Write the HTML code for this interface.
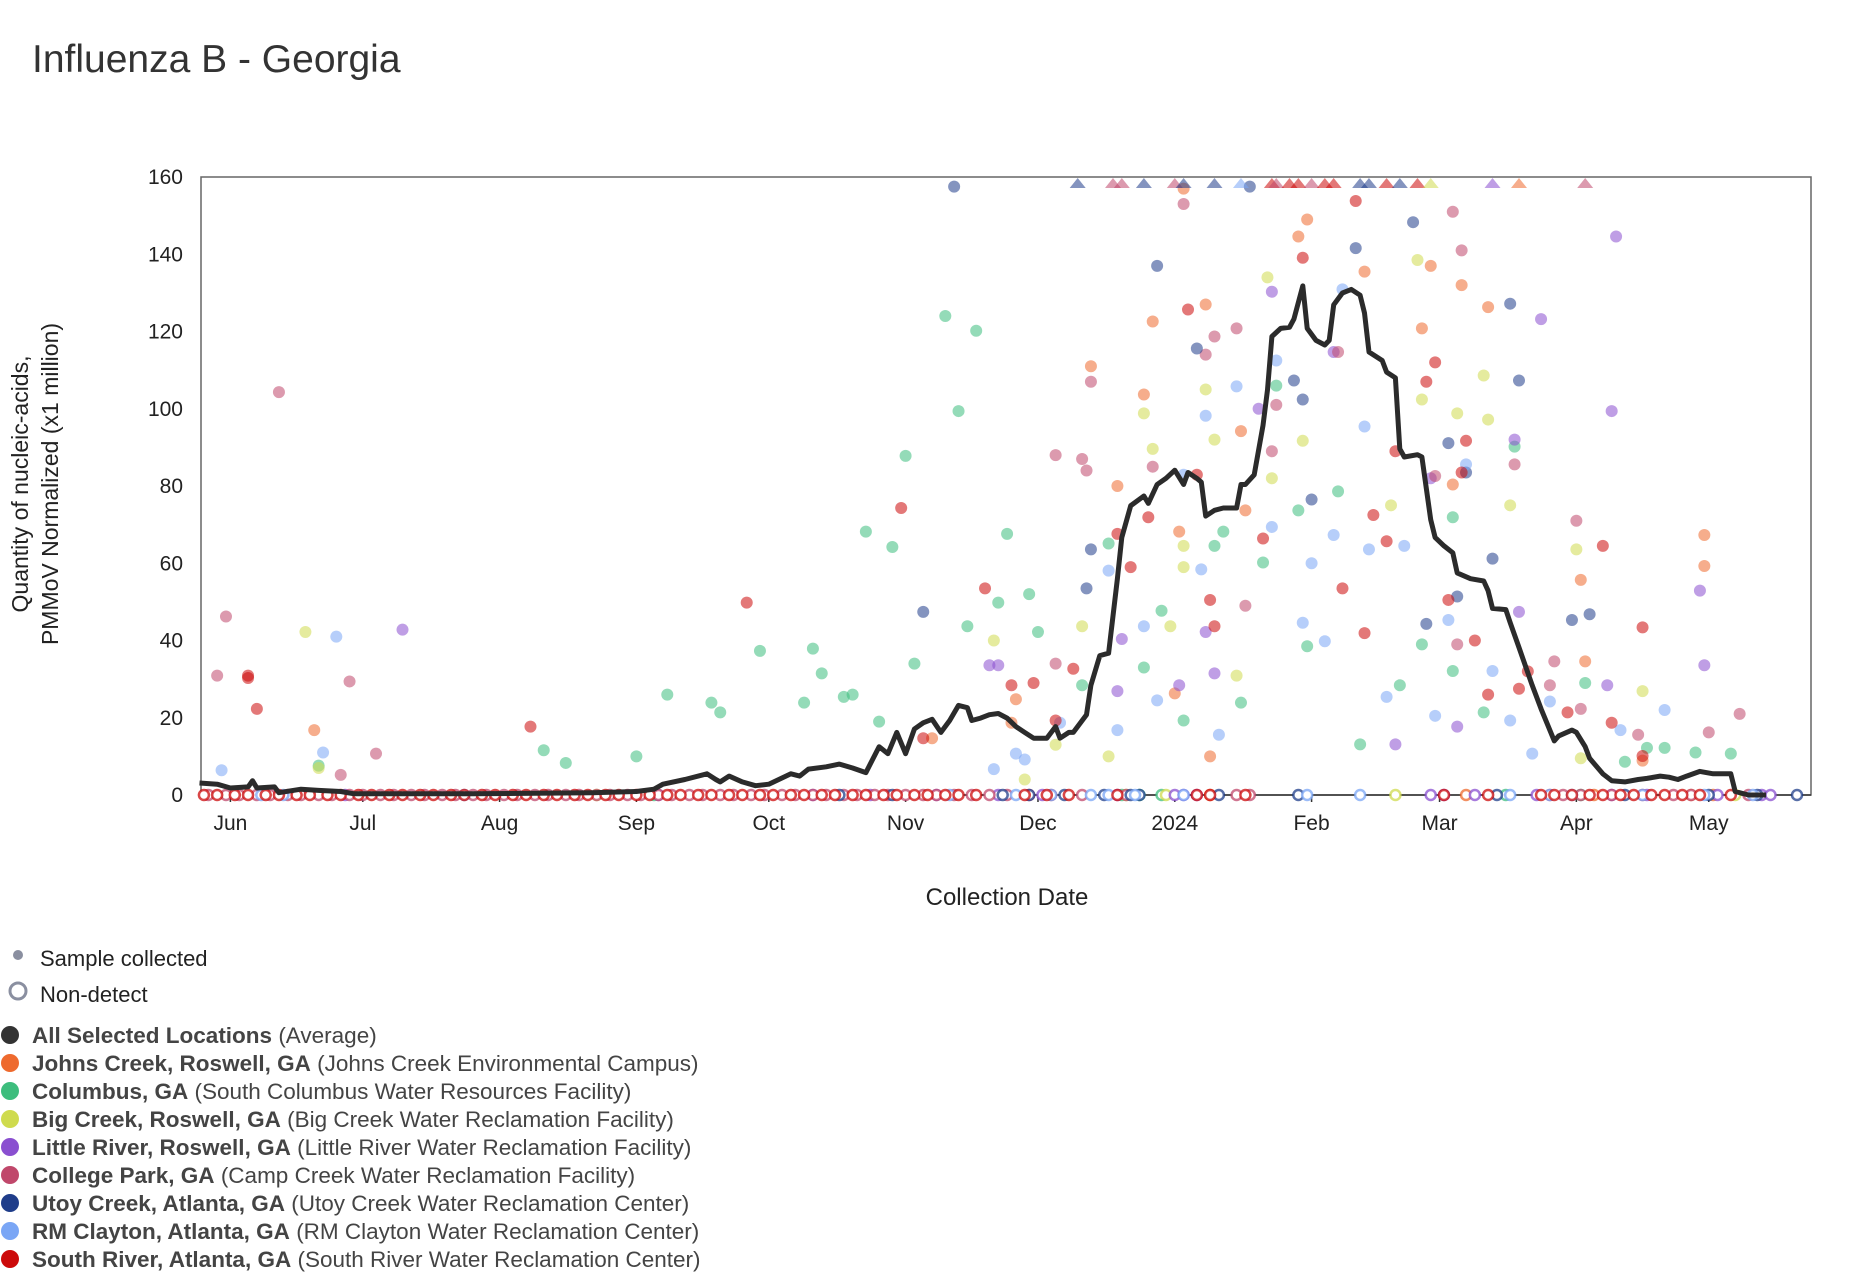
<!DOCTYPE html>
<html><head><meta charset="utf-8"><style>
html,body{margin:0;padding:0;background:#fff;}
svg{display:block;font-family:"Liberation Sans",sans-serif;}
</style></head><body>
<svg id="chart" width="1850" height="1288" viewBox="0 0 1850 1288" xmlns="http://www.w3.org/2000/svg">
<text x="32" y="72" font-size="39" fill="#333">Influenza B - Georgia</text>
<g id="plot"></g>
<text x="1007" y="905" font-size="24" fill="#222" text-anchor="middle">Collection Date</text>
<g transform="translate(28,484) rotate(-90)">
<text x="0" y="0" font-size="23" fill="#222" text-anchor="middle">Quantity of nucleic-acids,</text>
<text x="0" y="30" font-size="23" fill="#222" text-anchor="middle">PMMoV Normalized (x1 million)</text>
</g>
<g id="legend">
<circle cx="18" cy="955" r="5" fill="#8a8fa0"/>
<text x="40" y="966" font-size="22" fill="#222">Sample collected</text>
<circle cx="18" cy="991" r="8" fill="none" stroke="#8a8fa0" stroke-width="3"/>
<text x="40" y="1002" font-size="22" fill="#222">Non-detect</text>
</g>
</svg>
<script>
const avgDays=[-7,-3,0,4,5,6,10,11,16,20,25,28,36,55,82,92,96,98,103,108,110,111,113,116,119,122,127,129,131,135,138,141,144,147,149,151,153,155,157,159,161,163,165,167,168,170,172,174,176,178,180,182,185,187,188,190,191,194,195,197,199,201,202,204,207,208,210,212,214,216,217,219,220,221,223,225,228,229,230,232,234,235,236,238,240,241,243,244,246,248,249,250,252,254,256,257,258,261,262,264,265,266,269,270,272,273,275,277,278,281,284,285,286,289,290,292,295,297,300,301,304,305,307,308,311,313,316,319,321,324,326,328,330,333,336,340,341,344,348];
const avgVals=[3.1,2.8,1.8,2.1,3.7,1.8,2.1,0.6,1.5,1.2,0.9,0.3,0.3,0.3,0.6,0.9,1.5,2.8,4.0,5.5,4.0,3.4,4.9,3.4,2.4,2.8,5.5,4.9,6.7,7.3,8.0,7.0,5.8,12.5,10.7,16.2,10.7,17.1,18.7,19.6,16.2,19.3,23.2,22.6,19.3,19.9,20.8,21.1,19.9,17.7,16.2,14.7,14.7,17.7,14.7,16.2,16.2,20.8,28.4,36.1,36.7,56,66.7,74.9,77.4,75.5,80.4,82,84.1,80.4,83.5,82,81,72.2,73.7,74.3,74.3,80.4,80.4,82.9,95.7,104.9,118.7,120.8,121.1,123.2,131.8,120.8,117.7,116.5,117.7,126.9,130,130.9,129.4,124.8,114.7,112.5,109.5,108,89.6,87.5,88.1,87.5,71.3,66.7,64.5,62.7,57.5,56,55.4,52.9,48.3,48,44.6,38.2,28.4,22.3,14,15.3,16.8,16.2,12.5,9.5,5.5,3.7,3.4,4,4.3,4.9,4.6,4,4.9,6.1,5.5,5.5,0.9,0,0];

const siteNames=["Johns Creek","Columbus","Big Creek","Little River","College Park","Utoy Creek","RM Clayton","South River"];
const siteColors=["#ee6a2e","#3dbd7d","#cfdb4e","#8a4fd0","#c0476b","#1f3d8a","#7aa6f5","#cc0a0a"];
const jcDays=[19,195,201,207,209,214,215,216,221,222,229,230,242,244,257,270,272,279,285,277,307,306,334,334,320,178,159,177];
const jcVals=[16.8,111,80,103.7,122.6,26.3,68.2,157,127,10,94.2,73.7,144.6,149,135.5,120.8,137,132,126.3,80.4,34.6,55.7,59.3,67.3,8.9,24.8,14.7,18.7];
const coDays=[20,71,76,92,99,109,111,120,130,132,134,139,141,144,147,150,153,155,162,165,167,169,174,176,181,183,193,199,207,211,216,223,225,229,234,237,242,244,251,256,265,270,277,277,284,291,307,316,321,325,332,340];
const coVals=[7.6,11.6,8.3,10,26,23.9,21.4,37.3,23.9,37.9,31.5,25.4,26,68.2,19,64.2,87.8,34,124,99.4,43.7,120.2,49.8,67.6,52,42.2,28.4,65.1,33,47.7,19.3,64.5,68.2,23.9,60.2,106,73.7,38.5,78.6,13.1,28.4,39,32.1,71.9,21.4,90.2,29,8.6,12.2,12.2,11,10.7];
const bcDays=[17,20,173,180,187,193,199,207,209,213,216,216,221,223,228,235,236,243,263,269,270,278,284,285,290,305,306,320];
const bcVals=[42.2,7,40,4,13,43.7,10,98.8,89.6,43.7,64.5,59,105,92,30.9,134,82,91.7,75,138.5,102.4,98.8,108.6,97.2,75,63.6,9.5,26.9];
const lrDays=[39,172,174,202,215,221,223,233,236,250,272,278,291,292,297,312,313,314,333,334,264,201];
const lrVals=[42.8,33.6,33.6,40.4,28.4,42.2,31.5,100,130.3,114.7,82,17.7,92,47.4,123.2,28.4,99.4,144.6,52.9,33.6,13.1,26.9];
const cpDays=[-3,-1,11,27,25,33,187,193,194,195,209,216,221,223,228,230,236,237,251,277,279,273,278,291,299,305,319,335,342,187,300,306];
const cpVals=[30.9,46.2,104.3,29.4,5.2,10.7,88,87,84,107,85,153,114,118.7,120.8,49,89,101,114.7,151,141,82.6,39,85.6,28.4,71,15.6,16.2,21,34,34.6,22.3];
const utDays=[164,157,194,195,210,219,231,241,243,245,255,268,276,278,280,286,290,292,304,308,271];
const utVals=[157.5,47.4,53.5,63.6,137,115.6,157.5,107.3,102.4,76.5,141.6,148.3,91.1,51.4,83.5,61.2,127.2,107.3,45.3,46.8,44.3];
const rmDays=[-2,21,24,173,178,180,188,199,201,207,210,216,221,220,224,228,236,237,243,245,248,250,252,257,258,262,266,273,276,280,286,295,299,315,325,290];
const rmVals=[6.4,11,41,6.7,10.7,9.2,18.7,58.1,16.8,43.7,24.5,82.9,98.2,58.4,15.6,105.8,69.4,112.5,44.6,60,39.8,67.3,130.9,95.4,63.6,25.4,64.5,20.5,45.3,85.6,32.1,10.7,24.2,16.8,22,19.3];
const srDays=[4,4,6,68,117,152,157,171,177,182,187,191,201,204,208,217,222,223,219,234,243,252,255,257,259,262,264,271,273,276,280,282,285,292,294,303,311,313,320,320,279];
const srVals=[30.9,30.3,22.3,17.7,49.8,74.3,14.7,53.5,28.4,29,19.3,32.7,67.6,59,71.9,125.7,50.5,43.7,82.9,66.4,139.1,53.5,153.8,41.9,72.5,65.7,89,107,112,50.5,91.7,40,26,27.5,32,21.4,64.5,18.7,43.4,10.1,83.5];
const siteDays=[jcDays,coDays,bcDays,lrDays,cpDays,utDays,rmDays,srDays];
const siteVals=[jcVals,coVals,bcVals,lrVals,cpVals,utVals,rmVals,srVals];

const ndDays=[
 [222,280,309,331,336],
 [96,202,206,211,289,306],
 [83,203,212,264,341],
 [26,97,132,145,160,174,184,201,214,216,219,272,275,282,296,313,321,337,347,349],
 [-5,-1,2,6,9,13,16,20,23,27,30,34,37,41,44,48,51,55,58,62,65,69,72,76,79,83,86,90,93,97,100,104,107,111,114,118,121,125,128,132,135,139,142,146,149,153,157,160,164,168,172,176,181,186,193,203,228,231,299,302,306,313,320,327,331,344],
 [138,150,175,181,189,198,204,206,224,242,287,316,335,346,355],
 [7,12,53,163,178,186,195,199,205,216,244,256,290,299,304,320,334,345],
 [-6,-3,1,4,8,11,15,18,22,25,29,32,36,39,43,46,50,53,57,60,64,67,71,74,78,81,85,88,92,95,99,102,106,109,113,116,120,123,127,130,134,137,141,144,148,151,155,158,162,165,169,180,185,190,201,219,222,230,275,285,297,300,304,308,311,315,318,322,325,329,333,340]
];
const offDays=[192,200,202,207,214,216,223,229,236,237,240,242,245,248,250,256,258,262,265,269,272,286,292,307];
const offSite=[5,4,4,5,4,5,5,6,7,4,7,7,4,7,7,5,5,7,5,7,2,3,0,4];

const monthLabels=["Jun","Jul","Aug","Sep","Oct","Nov","Dec","2024","Feb","Mar","Apr","May"];
const monthDays=[0,30,61,92,122,153,183,214,245,274,305,335];
const yTicks=[0,20,40,60,80,100,120,140,160];

const legendBold=["All Selected Locations","Johns Creek, Roswell, GA","Columbus, GA","Big Creek, Roswell, GA","Little River, Roswell, GA","College Park, GA","Utoy Creek, Atlanta, GA","RM Clayton, Atlanta, GA","South River, Atlanta, GA"];
const legendNorm=["(Average)","(Johns Creek Environmental Campus)","(South Columbus Water Resources Facility)","(Big Creek Water Reclamation Facility)","(Little River Water Reclamation Facility)","(Camp Creek Water Reclamation Facility)","(Utoy Creek Water Reclamation Center)","(RM Clayton Water Reclamation Center)","(South River Water Reclamation Center)"];
const legendColors=["#333333","#ee6a2e","#3dbd7d","#cfdb4e","#8a4fd0","#c0476b","#1f3d8a","#7aa6f5","#cc0a0a"];

const NS="http://www.w3.org/2000/svg";
const L=201,R=1811,T=177,B=795;
const X0=230.4,PXD=4.413;
function xs(d){return X0+d*PXD;}
function ys(v){return B-(v/160)*(B-T);}
function mk(tag,attrs,parent){const e=document.createElementNS(NS,tag);for(const k in attrs)e.setAttribute(k,attrs[k]);parent.appendChild(e);return e;}
const plot=document.getElementById('plot');

const frame=mk('rect',{x:L,y:T,width:R-L,height:B-T,fill:'none',stroke:'#666','stroke-width':1.5},plot);


const xax=mk('line',{x1:L,y1:B,x2:R,y2:B,stroke:'#333','stroke-width':1.5},plot);



yTicks.forEach(v=>{
  const t=mk('text',{x:183,y:ys(v)+7,'font-size':21,fill:'#222','text-anchor':'end'},plot);
  t.textContent=v;
  
  
});
monthLabels.forEach((m,i)=>{
  const x=xs(monthDays[i]);
  const tk=mk('line',{x1:x,y1:B,x2:x,y2:B+7,stroke:'#333','stroke-width':1.5},plot);
  
  
  const t=mk('text',{x:x,y:830,'font-size':21,fill:'#222','text-anchor':'middle'},plot);
  t.textContent=m;
  
  
});

ndDays.forEach((arr,s)=>{
  arr.forEach(d=>{
    const c=mk('circle',{cx:xs(d),cy:ys(0),r:5,fill:'#fff',stroke:siteColors[s],'stroke-width':2.5,'stroke-opacity':0.75},plot);
    
    
  });
});
siteDays.forEach((arr,s)=>{
  arr.forEach((d,i)=>{
    const c=mk('circle',{cx:xs(d),cy:ys(siteVals[s][i]),r:6,fill:siteColors[s],'fill-opacity':0.55},plot);
    
    
  });
});
offDays.forEach((d,i)=>{
  const x=xs(d),y=T+1;
  const p=mk('polygon',{points:`${x-8},${y+10} ${x+8},${y+10} ${x},${y}`,fill:siteColors[offSite[i]],'fill-opacity':0.55},plot);
  
  
});
const pts=avgDays.map((d,i)=>xs(d).toFixed(1)+','+ys(avgVals[i]).toFixed(1)).join(' ');
const line=mk('polyline',{points:pts,fill:'none',stroke:'#2b2b2b','stroke-width':5,'stroke-linejoin':'round'},plot);



const lg=document.getElementById('legend');
legendBold.forEach((b,i)=>{
  const y=1037+i*28;
  const c=mk('circle',{cx:10,cy:y-2,r:9,fill:legendColors[i]},lg);
  
  
  const t=mk('text',{x:32,y:y+6,'font-size':22.5,fill:'#444'},lg);
  
  
  const tb=mk('tspan',{'font-weight':'bold'},t);tb.textContent=b;
  const tn=mk('tspan',{},t);tn.textContent=' '+legendNorm[i];
});
</script>
</body></html>
